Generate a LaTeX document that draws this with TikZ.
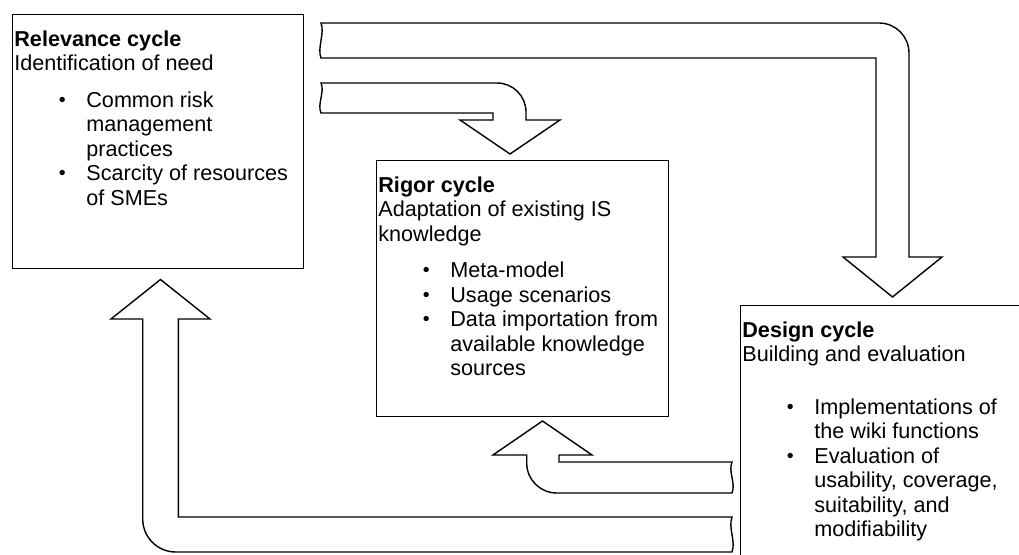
\documentclass[tikz,border=0pt]{standalone}
\usepackage{fontspec}
\setmainfont{Liberation Sans}
\usetikzlibrary{positioning}

\newcommand{\bitem}{\hspace*{24pt}\makebox[0pt]{\raisebox{0.3pt}{\fontsize{9.8}{9.8}\selectfont\textbullet}}\hspace*{12pt}}
\newcommand{\bcont}{\hspace*{36pt}}

\begin{document}
\begin{tikzpicture}[x=0.5pt, y=-0.5pt,
        cyclebox/.style={rectangle, draw, line width=0.7pt, anchor=north west, inner sep=0pt},
        cycletext/.style={inner sep=0pt, align=left, font=\fontsize{10.8}{12.25}\selectfont},
        blockarrow/.style={draw, line width=0.7pt, fill=white, line join=miter},
        node distance=8pt and 1pt
    ]
    \useasboundingbox (0,0) rectangle (1019,555);
    \clip (0,0) rectangle (1019,555);

    \node[cyclebox, minimum width=145.5pt, minimum height=127pt] (rel) at (12,14) {};
    \node[cyclebox, minimum width=146pt, minimum height=128pt] (rig) at (376,160) {};
    \node[cyclebox, minimum width=150pt, minimum height=130pt] (des) at (740,305) {};

    \node[cycletext, below right=of rel.north west] (reltext) {%
        \textbf{Relevance cycle}\\
        Identification of need\\[6pt]
        \bitem Common risk\\
        \bcont management\\
        \bcont practices\\
        \bitem Scarcity of resources\\
        \bcont of SMEs};
    \node[cycletext, below right=of rig.north west] (rigtext) {%
        \textbf{Rigor cycle}\\
        Adaptation of existing IS\\
        knowledge\\[6pt]
        \bitem Meta-model\\
        \bitem Usage scenarios\\
        \bitem Data importation from\\
        \bcont available knowledge\\
        \bcont sources};
    \node[cycletext, below right=of des.north west] (destext) {%
        \textbf{Design cycle}\\
        Building and evaluation\\[14pt]
        \bitem Implementations of\\
        \bcont the wiki functions\\
        \bitem Evaluation of\\
        \bcont usability, coverage,\\
        \bcont suitability, and\\
        \bcont modifiability};

    % relevance -> design
    \draw[blockarrow] (321,23) -- (879,23) .. controls (895.6,23) and (909,36.4) .. (909,53)
        -- (909,257) -- (942,257) -- (892.5,297) -- (843,257) -- (876,257) -- (876,58)
        -- (321,58) .. controls (317,48) and (325,33) .. (321,23) -- cycle;
    % relevance -> rigor
    \draw[blockarrow] (321,83) -- (497,83) .. controls (513,83) and (526,96) .. (526,112)
        -- (526,120) -- (560,120) -- (510,154) -- (460,120) -- (493,120) -- (493,113)
        -- (321,113) .. controls (317,104) and (325,92) .. (321,83) -- cycle;
    % design -> rigor
    \draw[blockarrow] (732,462) -- (559,462) -- (559,455) -- (592,455) -- (542.5,421)
        -- (493,455) -- (526.7,455) -- (526.7,463) .. controls (526.7,479.6) and (540.1,493) .. (556.7,493)
        -- (732,493) .. controls (736,483) and (728,472) .. (732,462) -- cycle;
    % design -> relevance
    \draw[blockarrow] (732,517) -- (178.3,517) -- (178.3,319) -- (210,319) -- (160.5,279.5)
        -- (111,319) -- (142.7,319) -- (142.7,519) .. controls (142.7,537.2) and (157.5,552) .. (175.7,552)
        -- (732,552) .. controls (736,541) and (728,528) .. (732,517) -- cycle;

\end{tikzpicture}
\end{document}
